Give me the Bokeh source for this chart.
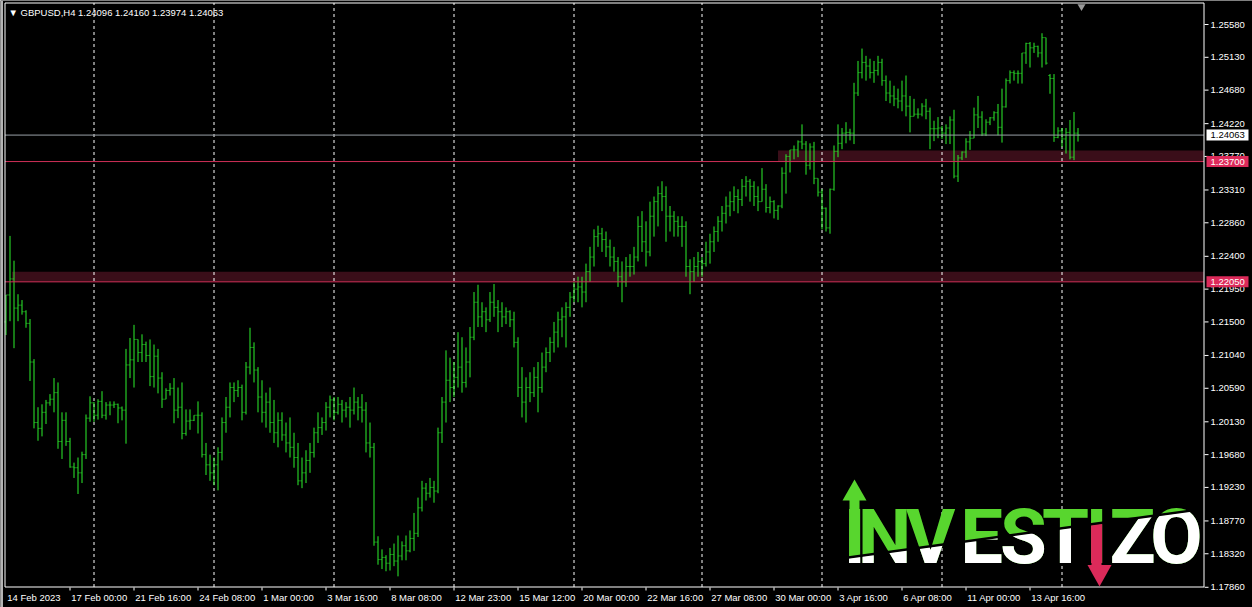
import numpy as np
from bokeh.plotting import figure
from bokeh.layouts import column
from bokeh.models import Range1d, Label, ColumnDataSource
from bokeh.core.properties import value
from bokeh.embed import file_html
from bokeh.resources import INLINE

# ---------------- data ----------------
symbol_title = "GBPUSD,H4"
last_ohlc = ["1.24096", "1.24160", "1.23974", "1.24063"]

opens = [1.2150, 1.2187, 1.2209, 1.2169, 1.2173, 1.2164, 1.2148, 1.2095, 1.2012, 1.2004,
         1.2026, 1.2039, 1.2044, 1.2053, 1.1986, 1.2015, 1.1986, 1.1951, 1.1950, 1.1943,
         1.1968, 1.2018, 1.2039, 1.2022, 1.2041, 1.2022, 1.2036, 1.2036, 1.2037, 1.2032,
         1.2029, 1.2091, 1.2098, 1.2126, 1.2108, 1.2119, 1.2104, 1.2075, 1.2103, 1.2073,
         1.2044, 1.2056, 1.2059, 1.2029, 1.2033, 1.1997, 1.2014, 1.2015, 1.2022, 1.2022,
         1.1968, 1.1954, 1.1943, 1.1954, 1.1971, 1.2012, 1.2033, 1.2060, 1.2056, 1.2060,
         1.2026, 1.2088, 1.2115, 1.2084, 1.2047, 1.2026, 1.2040, 1.2012, 1.1998, 1.2015,
         1.1995, 1.1984, 1.1978, 1.1964, 1.1932, 1.1943, 1.1960, 1.1971, 1.1998, 1.2005,
         1.2012, 1.2033, 1.2043, 1.2026, 1.2037, 1.2029, 1.2033, 1.2029, 1.2040, 1.2033,
         1.2029, 1.1984, 1.1978, 1.1848, 1.1824, 1.1827, 1.1819, 1.1831, 1.1822, 1.1829,
         1.1843, 1.1836, 1.1853, 1.1860, 1.1895, 1.1922, 1.1915, 1.1923, 1.1918, 1.1998,
         1.2040, 1.2070, 1.2060, 1.2074, 1.2088, 1.2067, 1.2095, 1.2129, 1.2177, 1.2157,
         1.2164, 1.2153, 1.2177, 1.2170, 1.2164, 1.2157, 1.2164, 1.2153, 1.2122, 1.2060,
         1.2040, 1.2060, 1.2053, 1.2074, 1.2060, 1.2088, 1.2108, 1.2122, 1.2136, 1.2153,
         1.2157, 1.2170, 1.2184, 1.2195, 1.2198, 1.2191, 1.2219, 1.2239, 1.2267, 1.2271,
         1.2263, 1.2253, 1.2239, 1.2233, 1.2212, 1.2205, 1.2226, 1.2226, 1.2239, 1.2281,
         1.2260, 1.2246, 1.2295, 1.2315, 1.2326, 1.2322, 1.2295, 1.2295, 1.2288, 1.2281,
         1.2281, 1.2226, 1.2219, 1.2226, 1.2233, 1.2230, 1.2246, 1.2260, 1.2274, 1.2288,
         1.2299, 1.2309, 1.2315, 1.2322, 1.2318, 1.2336, 1.2343, 1.2336, 1.2322, 1.2315,
         1.2332, 1.2307, 1.2315, 1.2303, 1.2309, 1.2354, 1.2377, 1.2386, 1.2386, 1.2397,
         1.2394, 1.2365, 1.2390, 1.2347, 1.2328, 1.2306, 1.2279, 1.2332, 1.2384, 1.2395,
         1.2409, 1.2410, 1.2409, 1.2464, 1.2492, 1.2506, 1.2501, 1.2492, 1.2495, 1.2506,
         1.2481, 1.2464, 1.2460, 1.2456, 1.2453, 1.2460, 1.2446, 1.2432, 1.2435, 1.2435,
         1.2446, 1.2439, 1.2415, 1.2415, 1.2416, 1.2409, 1.2416, 1.2427, 1.2350, 1.2375,
         1.2383, 1.2397, 1.2402, 1.2434, 1.2431, 1.2408, 1.2424, 1.2430, 1.2437, 1.2417,
         1.2445, 1.2481, 1.2492, 1.2491, 1.2491, 1.2519, 1.2532, 1.2526, 1.2528, 1.2519,
         1.2540, 1.2488, 1.2484, 1.2403, 1.2412, 1.2401, 1.2410, 1.2376, 1.2409, 1.24096]

highs = [1.2187, 1.2268, 1.2234, 1.2188, 1.2180, 1.2166, 1.2154, 1.2099, 1.2033, 1.2037,
         1.2043, 1.2051, 1.2073, 1.2067, 1.2026, 1.2026, 1.1991, 1.1957, 1.1964, 1.1972,
         1.2023, 1.2048, 1.2040, 1.2044, 1.2055, 1.2040, 1.2041, 1.2041, 1.2038, 1.2034,
         1.2113, 1.2128, 1.2146, 1.2126, 1.2133, 1.2123, 1.2126, 1.2119, 1.2113, 1.2081,
         1.2059, 1.2066, 1.2073, 1.2060, 1.2067, 1.2030, 1.2030, 1.2022, 1.2041, 1.2026,
         1.1984, 1.1968, 1.1964, 1.1978, 1.2019, 1.2047, 1.2067, 1.2067, 1.2070, 1.2064,
         1.2095, 1.2142, 1.2122, 1.2088, 1.2070, 1.2053, 1.2060, 1.2043, 1.2026, 1.2026,
         1.2012, 1.2019, 1.1998, 1.1984, 1.1964, 1.1974, 1.1984, 1.2005, 1.2026, 1.2019,
         1.2040, 1.2049, 1.2047, 1.2047, 1.2043, 1.2040, 1.2047, 1.2060, 1.2047, 1.2051,
         1.2040, 1.2012, 1.1984, 1.1856, 1.1838, 1.1830, 1.1840, 1.1846, 1.1857, 1.1849,
         1.1857, 1.1864, 1.1888, 1.1909, 1.1932, 1.1929, 1.1936, 1.1932, 1.2005, 1.2047,
         1.2111, 1.2101, 1.2095, 1.2136, 1.2129, 1.2115, 1.2143, 1.2191, 1.2201, 1.2177,
         1.2170, 1.2191, 1.2202, 1.2180, 1.2177, 1.2170, 1.2166, 1.2164, 1.2129, 1.2088,
         1.2074, 1.2081, 1.2088, 1.2095, 1.2108, 1.2115, 1.2129, 1.2150, 1.2164, 1.2170,
         1.2177, 1.2191, 1.2205, 1.2212, 1.2212, 1.2230, 1.2253, 1.2277, 1.2282, 1.2279,
         1.2274, 1.2263, 1.2253, 1.2239, 1.2233, 1.2239, 1.2243, 1.2253, 1.2295, 1.2302,
         1.2288, 1.2315, 1.2322, 1.2336, 1.2343, 1.2336, 1.2309, 1.2302, 1.2295, 1.2295,
         1.2288, 1.2236, 1.2239, 1.2246, 1.2239, 1.2260, 1.2271, 1.2281, 1.2295, 1.2309,
         1.2322, 1.2329, 1.2336, 1.2332, 1.2346, 1.2350, 1.2346, 1.2343, 1.2336, 1.2361,
         1.2339, 1.2322, 1.2317, 1.2310, 1.2362, 1.2380, 1.2386, 1.2392, 1.2399, 1.2421,
         1.2398, 1.2395, 1.2397, 1.2347, 1.2332, 1.2307, 1.2333, 1.2392, 1.2421, 1.2416,
         1.2424, 1.2415, 1.2478, 1.2508, 1.2525, 1.2515, 1.2511, 1.2508, 1.2515, 1.2511,
         1.2488, 1.2481, 1.2474, 1.2470, 1.2481, 1.2488, 1.2460, 1.2456, 1.2443, 1.2450,
         1.2456, 1.2444, 1.2426, 1.2431, 1.2419, 1.2421, 1.2432, 1.2441, 1.2379, 1.2384,
         1.2402, 1.2412, 1.2444, 1.2460, 1.2439, 1.2428, 1.2431, 1.2439, 1.2449, 1.2470,
         1.2484, 1.2495, 1.2495, 1.2495, 1.2519, 1.2533, 1.2534, 1.2533, 1.2529, 1.2546,
         1.2540, 1.2490, 1.2490, 1.2417, 1.2416, 1.2416, 1.2427, 1.2438, 1.24160]

lows = [1.2132, 1.2151, 1.2114, 1.2151, 1.2160, 1.2142, 1.2069, 1.2004, 1.1987, 1.1993,
        1.2010, 1.2035, 1.2026, 1.1976, 1.1962, 1.1980, 1.1950, 1.1936, 1.1914, 1.1929,
        1.1962, 1.2013, 1.2013, 1.2016, 1.2018, 1.2016, 1.2022, 1.2032, 1.2011, 1.2015,
        1.1983, 1.2073, 1.2060, 1.2095, 1.2095, 1.2095, 1.2062, 1.2060, 1.2052, 1.2032,
        1.2044, 1.2049, 1.2011, 1.2018, 1.1989, 1.1994, 1.2002, 1.2014, 1.1997, 1.1964,
        1.1940, 1.1932, 1.1926, 1.1919, 1.1960, 1.1998, 1.2019, 1.2040, 1.2047, 1.2015,
        1.2023, 1.2078, 1.2067, 1.2026, 1.2012, 1.2005, 1.1998, 1.1984, 1.1978, 1.1987,
        1.1971, 1.1964, 1.1950, 1.1926, 1.1922, 1.1929, 1.1943, 1.1964, 1.1984, 1.1995,
        1.2001, 1.2019, 1.2015, 1.2023, 1.2012, 1.2019, 1.2005, 1.2023, 1.2015, 1.2012,
        1.1971, 1.1964, 1.1843, 1.1817, 1.1811, 1.1808, 1.1809, 1.1815, 1.1801, 1.1823,
        1.1823, 1.1834, 1.1836, 1.1855, 1.1890, 1.1905, 1.1909, 1.1902, 1.1915, 1.1984,
        1.2012, 1.2040, 1.2047, 1.2060, 1.2053, 1.2060, 1.2074, 1.2125, 1.2143, 1.2143,
        1.2136, 1.2150, 1.2157, 1.2136, 1.2143, 1.2147, 1.2143, 1.2115, 1.2047, 1.2019,
        1.2012, 1.2040, 1.2047, 1.2026, 1.2053, 1.2081, 1.2095, 1.2108, 1.2115, 1.2129,
        1.2115, 1.2157, 1.2177, 1.2177, 1.2170, 1.2177, 1.2205, 1.2226, 1.2253, 1.2246,
        1.2239, 1.2226, 1.2219, 1.2198, 1.2177, 1.2198, 1.2212, 1.2215, 1.2233, 1.2246,
        1.2226, 1.2240, 1.2267, 1.2281, 1.2302, 1.2260, 1.2274, 1.2267, 1.2267, 1.2253,
        1.2212, 1.2188, 1.2205, 1.2212, 1.2212, 1.2226, 1.2230, 1.2246, 1.2260, 1.2274,
        1.2285, 1.2295, 1.2302, 1.2299, 1.2309, 1.2322, 1.2315, 1.2309, 1.2302, 1.2315,
        1.2300, 1.2299, 1.2292, 1.2290, 1.2306, 1.2326, 1.2355, 1.2373, 1.2376, 1.2387,
        1.2352, 1.2359, 1.2339, 1.2322, 1.2277, 1.2274, 1.2271, 1.2330, 1.2376, 1.2387,
        1.2395, 1.2399, 1.2394, 1.2460, 1.2484, 1.2481, 1.2484, 1.2478, 1.2488, 1.2474,
        1.2453, 1.2450, 1.2446, 1.2443, 1.2439, 1.2432, 1.2410, 1.2432, 1.2429, 1.2432,
        1.2428, 1.2387, 1.2398, 1.2402, 1.2401, 1.2394, 1.2394, 1.2347, 1.2342, 1.2372,
        1.2375, 1.2386, 1.2402, 1.2416, 1.2405, 1.2405, 1.2420, 1.2426, 1.2406, 1.2396,
        1.2444, 1.2477, 1.2481, 1.2477, 1.2477, 1.2504, 1.2499, 1.2519, 1.2513, 1.2499,
        1.2503, 1.2463, 1.2397, 1.2402, 1.2390, 1.2381, 1.2373, 1.2372, 1.23974]

closes = [1.2187, 1.2209, 1.2169, 1.2173, 1.2164, 1.2148, 1.2095, 1.2012, 1.2004, 1.2026,
          1.2039, 1.2044, 1.2053, 1.1986, 1.2015, 1.1986, 1.1951, 1.1950, 1.1943, 1.1968,
          1.2018, 1.2039, 1.2022, 1.2041, 1.2022, 1.2036, 1.2036, 1.2037, 1.2032, 1.2029,
          1.2091, 1.2098, 1.2126, 1.2108, 1.2119, 1.2104, 1.2075, 1.2103, 1.2073, 1.2044,
          1.2056, 1.2059, 1.2029, 1.2033, 1.1997, 1.2014, 1.2015, 1.2022, 1.2022, 1.1968,
          1.1954, 1.1943, 1.1954, 1.1971, 1.2012, 1.2033, 1.2060, 1.2056, 1.2060, 1.2026,
          1.2088, 1.2115, 1.2084, 1.2047, 1.2026, 1.2040, 1.2012, 1.1998, 1.2015, 1.1995,
          1.1984, 1.1978, 1.1964, 1.1932, 1.1943, 1.1960, 1.1971, 1.1998, 1.2005, 1.2012,
          1.2033, 1.2043, 1.2026, 1.2037, 1.2029, 1.2033, 1.2029, 1.2040, 1.2033, 1.2029,
          1.1984, 1.1978, 1.1848, 1.1824, 1.1827, 1.1819, 1.1831, 1.1822, 1.1829, 1.1843,
          1.1836, 1.1853, 1.1860, 1.1895, 1.1922, 1.1915, 1.1923, 1.1918, 1.1998, 1.2040,
          1.2070, 1.2060, 1.2074, 1.2088, 1.2067, 1.2095, 1.2129, 1.2177, 1.2157, 1.2164,
          1.2153, 1.2177, 1.2170, 1.2164, 1.2157, 1.2164, 1.2153, 1.2122, 1.2060, 1.2040,
          1.2060, 1.2053, 1.2074, 1.2060, 1.2088, 1.2108, 1.2122, 1.2136, 1.2153, 1.2157,
          1.2170, 1.2184, 1.2195, 1.2198, 1.2191, 1.2219, 1.2239, 1.2267, 1.2271, 1.2263,
          1.2253, 1.2239, 1.2233, 1.2212, 1.2205, 1.2226, 1.2226, 1.2239, 1.2281, 1.2260,
          1.2246, 1.2295, 1.2315, 1.2326, 1.2322, 1.2295, 1.2295, 1.2288, 1.2281, 1.2281,
          1.2226, 1.2219, 1.2226, 1.2233, 1.2230, 1.2246, 1.2260, 1.2274, 1.2288, 1.2299,
          1.2309, 1.2315, 1.2322, 1.2318, 1.2336, 1.2343, 1.2336, 1.2322, 1.2315, 1.2332,
          1.2307, 1.2315, 1.2303, 1.2309, 1.2354, 1.2377, 1.2386, 1.2386, 1.2397, 1.2394,
          1.2365, 1.2390, 1.2347, 1.2328, 1.2306, 1.2279, 1.2332, 1.2384, 1.2395, 1.2409,
          1.2410, 1.2409, 1.2464, 1.2492, 1.2506, 1.2501, 1.2492, 1.2495, 1.2506, 1.2481,
          1.2464, 1.2460, 1.2456, 1.2453, 1.2460, 1.2446, 1.2432, 1.2435, 1.2435, 1.2446,
          1.2439, 1.2415, 1.2415, 1.2416, 1.2409, 1.2416, 1.2427, 1.2350, 1.2375, 1.2383,
          1.2397, 1.2402, 1.2434, 1.2431, 1.2408, 1.2424, 1.2430, 1.2437, 1.2417, 1.2445,
          1.2481, 1.2492, 1.2491, 1.2491, 1.2519, 1.2532, 1.2526, 1.2528, 1.2519, 1.2540,
          1.2505, 1.2484, 1.2403, 1.2412, 1.2401, 1.2410, 1.2376, 1.2409, 1.24063]

time_tick_bars = [0, 16, 32, 48, 64, 80, 96, 112, 128, 144, 160, 176, 192, 208, 224, 240, 256]
time_tick_labels = ["14 Feb 2023", "17 Feb 00:00", "21 Feb 16:00", "24 Feb 08:00", "1 Mar 00:00",
                    "3 Mar 16:00", "8 Mar 08:00", "12 Mar 23:00", "15 Mar 12:00", "20 Mar 00:00",
                    "22 Mar 16:00", "27 Mar 08:00", "30 Mar 00:00", "3 Apr 16:00", "6 Apr 08:00",
                    "11 Apr 00:00", "13 Apr 16:00"]
price_ticks = [1.25580, 1.25130, 1.24680, 1.24220, 1.23770, 1.23310, 1.22860, 1.22400, 1.21950,
               1.21500, 1.21040, 1.20590, 1.20130, 1.19680, 1.19230, 1.18770, 1.18320, 1.17860]
grid_bars = [22, 52, 82, 112, 142, 174, 204, 234, 264]
bid_price = 1.24063
level_prices = [1.23700, 1.22050]
zone_tops = [1.23850, 1.22190]
zone_start_bars = [193.0, 1.5]
logo_letters = ["I", "N", "V", "E", "S", "T", "I", "Z", "O"]

# ---------------- layout helpers (page pixel geometry) ----------------
W, H = 1252, 607
BAR_PX = 4.0                              # bar spacing in pixels
BAR0_PX = 5.5                             # centre of first bar
PX_PER_PRICE = 7290.0
REF_PRICE, REF_PY = 1.25580, 24.0
def px_x(px):
    return (px - BAR0_PX) / BAR_PX
def px_y(py):
    return REF_PRICE - (py - REF_PY) / PX_PER_PRICE
X0, X1 = px_x(0), px_x(W)
Y_TOP, Y_BOT = px_y(0), px_y(H)
CH_L, CH_R, CH_T, CH_B = 4.5, 1203.5, 2.5, 586.5   # chart border lines

FONT = "Liberation Sans"
FS = "9.5px"
BAR_COLOR = "#2cf02c"
RED = "#dc2a5a"
LOGO_GREEN = "#58d62e"

p = figure(width=W, height=H, x_range=Range1d(X0, X1), y_range=Range1d(Y_BOT, Y_TOP),
           toolbar_location=None, output_backend="svg",
           x_axis_location=None, y_axis_location=None, min_border=0,
           background_fill_color="black", border_fill_color="black")
p.xgrid.visible = False
p.ygrid.visible = False
p.outline_line_color = None

chart_left, chart_right = px_x(CH_L), px_x(CH_R)

# window edge strip
p.quad(left=[px_x(0)], right=[px_x(2.5)], bottom=[Y_BOT], top=[Y_TOP], fill_color="#b4b4b4", line_color=None)

# support / resistance zones
p.quad(left=zone_start_bars, right=[chart_right] * len(zone_start_bars), bottom=level_prices, top=zone_tops,
       fill_color="#3a0e19", line_color=None)

# weekly grid
p.segment(x0=grid_bars, x1=grid_bars, y0=[px_y(CH_B)] * len(grid_bars), y1=[px_y(CH_T)] * len(grid_bars),
          line_color="white", line_width=1, line_dash="3 3")

# OHLC bars
idx = np.arange(len(closes))
src = ColumnDataSource(dict(x=idx, lo=lows, hi=highs, o=opens, c=closes,
                            ol=idx - 0.375, orr=idx - 0.125, cl=idx + 0.125, cr=idx + 0.375))
p.segment(x0="x", x1="x", y0="lo", y1="hi", source=src, line_color=BAR_COLOR, line_width=1)
p.segment(x0="ol", x1="orr", y0="o", y1="o", source=src, line_color=BAR_COLOR, line_width=1)
p.segment(x0="cl", x1="cr", y0="c", y1="c", source=src, line_color=BAR_COLOR, line_width=1)

# level lines
p.segment(x0=[chart_left] * 2, x1=[chart_right] * 2, y0=level_prices, y1=level_prices,
          line_color="#cf3058", line_width=1)
p.segment(x0=[chart_left], x1=[chart_right], y0=[bid_price], y1=[bid_price],
          line_color="#9aa0a8", line_width=1)

# chart border
p.segment(x0=[chart_left, chart_right, chart_left, chart_left],
          x1=[chart_left, chart_right, chart_right, chart_right],
          y0=[px_y(CH_T), px_y(CH_T), px_y(CH_T), px_y(CH_B)],
          y1=[px_y(CH_B), px_y(CH_B), px_y(CH_T), px_y(CH_B)],
          line_color="white", line_width=1)

# chart shift marker
p.scatter(x=[px_x(1081)], y=[px_y(6)], marker="inverted_triangle", size=8,
          fill_color="#9a9a9a", line_color=None)

# price scale (right)
p.segment(x0=[px_x(1204)] * len(price_ticks), x1=[px_x(1208)] * len(price_ticks),
          y0=price_ticks, y1=price_ticks, line_color="white", line_width=1)
p.text(x=[px_x(1210)] * len(price_ticks), y=price_ticks, text=["%.5f" % v for v in price_ticks],
       text_color="white", text_font=value(FONT), text_font_size=FS,
       text_align="left", text_baseline="middle")

# time scale (bottom)
p.segment(x0=time_tick_bars[1:], x1=time_tick_bars[1:],
          y0=[px_y(587)] * (len(time_tick_bars) - 1), y1=[px_y(590)] * (len(time_tick_bars) - 1),
          line_color="white", line_width=1)
p.text(x=[b + 0.3 for b in time_tick_bars], y=[px_y(597)] * len(time_tick_bars), text=time_tick_labels,
       text_color="white", text_font=value(FONT), text_font_size=FS,
       text_align="left", text_baseline="middle")

# price tags
tag_prices = [bid_price] + level_prices
tag_bg = ["white", RED, RED]
tag_fg = ["black", "white", "white"]
half = 5.5 / PX_PER_PRICE
p.quad(left=[px_x(1206)] * 3, right=[px_x(1248)] * 3,
       bottom=[v - half for v in tag_prices], top=[v + half for v in tag_prices],
       fill_color=tag_bg, line_color=None)
p.text(x=[px_x(1210)] * 3, y=tag_prices, text=["%.5f" % v for v in tag_prices],
       text_color=tag_fg, text_font=value(FONT), text_font_size=FS,
       text_align="left", text_baseline="middle")

# title
p.add_layout(Label(x=px_x(8), y=px_y(12), text="\u25BC " + symbol_title + "  " + " ".join(last_ohlc),
                   text_align="left", text_baseline="middle", text_color="white",
                   text_font=FONT, text_font_size=FS))

# ---------------- logo: green upper part (main plot) ----------------
LOGO_FONT = dict(text_font=value("Roboto"), text_font_style="bold", text_font_size="76px",
                 text_align="center", text_baseline="alphabetic")
centers = [854, 884, 930, 981, 1023, 1065, 1096, 1132, 1176]
ANCHOR_Y = 536
SPLIT_X0, SPLIT_Y0, SPLIT_SLOPE = 853.0, 556.0, -0.1366
def split_y(x):
    return SPLIT_Y0 + SPLIT_SLOPE * (x - SPLIT_X0)

p.text(x=[px_x(c) for c in centers], y=[px_y(ANCHOR_Y)] * len(centers), text=logo_letters,
       text_color=LOGO_GREEN, **LOGO_FONT)
p.patches(xs=[[px_x(842), px_x(866), px_x(854)], [px_x(1087), px_x(1111), px_x(1099)]],
          ys=[[px_y(500), px_y(500), px_y(479)], [px_y(564.5), px_y(564.5), px_y(586)]],
          fill_color=[LOGO_GREEN, RED], line_color=None)
p.quad(left=[px_x(849), px_x(1091)], right=[px_x(859), px_x(1101)],
       bottom=[px_y(512), px_y(565)], top=[px_y(499), px_y(558)],
       fill_color=[LOGO_GREEN, RED], line_color=None)
# dark cut between the two tones
gx0, gx1 = 844.0, 1202.0
p.patch(x=[px_x(gx0), px_x(gx1), px_x(gx1), px_x(gx0)],
        y=[px_y(split_y(gx0) - 1), px_y(split_y(gx1) - 1), px_y(split_y(gx1) + 2), px_y(split_y(gx0) + 2)],
        fill_color="black", line_color=None)

# ---------------- logo: white lower part (overlay, masked below the cut) ----------------
QL, QT, QW, QH = 830, 460, 390, 140
q = figure(width=QW, height=QH, x_range=Range1d(0, QW), y_range=Range1d(0, QH),
           toolbar_location=None, output_backend="svg",
           x_axis_location=None, y_axis_location=None, min_border=0,
           background_fill_color=None, border_fill_color=None)
q.xgrid.visible = False
q.ygrid.visible = False
q.outline_line_color = None
low_colors = ["white"] * len(centers)
low_colors[6] = RED
q.text(x=[c - QL for c in centers], y=[QH - (ANCHOR_Y - QT)] * len(centers), text=logo_letters,
       text_color=low_colors, **LOGO_FONT)
a = split_y(QL) + 2 - QT
b = split_y(QL + QW) + 2 - QT
q.styles = {"position": "absolute", "left": "%dpx" % QL, "top": "%dpx" % QT,
            "clip-path": "polygon(0px %.2fpx, %dpx %.2fpx, %dpx %dpx, 0px %dpx)" % (a, QW, b, QW, QH, QH)}

page = column(p, q, spacing=0)
page.styles = {"position": "relative", "overflow": "hidden", "width": "%dpx" % W, "height": "%dpx" % H}

open("out.html", "w").write(file_html(page, INLINE))
